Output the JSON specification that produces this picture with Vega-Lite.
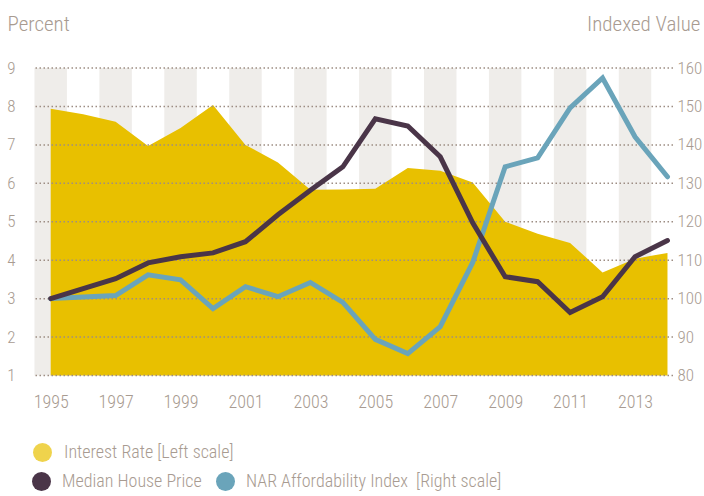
{
  "$schema": "https://vega.github.io/schema/vega-lite/v6.json",
  "width": 640,
  "height": 307.5,
  "autosize": {"type": "none"},
  "padding": {"left": 33, "top": 68, "right": 31, "bottom": 121},
  "background": "white",
  "config": {
    "view": {"stroke": null},
    "font": "Roboto Condensed, Liberation Sans Narrow, DejaVu Sans Condensed, sans-serif",
    "axis": {
      "labelFont": "Roboto Condensed, Liberation Sans Narrow, DejaVu Sans Condensed, sans-serif",
      "labelFontWeight": 300,
      "labelColor": "#A89B91",
      "titleFont": "Roboto Condensed, Liberation Sans Narrow, DejaVu Sans Condensed, sans-serif",
      "titleColor": "#A89B91",
      "titleFontWeight": 300,
      "domain": false,
      "ticks": false,
      "labelOverlap": false
    },
    "legend": {
      "labelFont": "Roboto Condensed, Liberation Sans Narrow, DejaVu Sans Condensed, sans-serif",
      "labelFontWeight": 300,
      "labelFontSize": 18,
      "labelColor": "#A89B91",
      "labelLimit": 400,
      "symbolType": "circle",
      "symbolSize": 361,
      "labelOffset": 11,
      "columnPadding": 14
    }
  },
  "datasets": {
    "bands": [
      {"start": 1994.5, "end": 1995.5},
      {"start": 1996.5, "end": 1997.5},
      {"start": 1998.5, "end": 1999.5},
      {"start": 2000.5, "end": 2001.5},
      {"start": 2002.5, "end": 2003.5},
      {"start": 2004.5, "end": 2005.5},
      {"start": 2006.5, "end": 2007.5},
      {"start": 2008.5, "end": 2009.5},
      {"start": 2010.5, "end": 2011.5},
      {"start": 2012.5, "end": 2013.5}
    ],
    "grid": [
      {"v": 1}, {"v": 2}, {"v": 3}, {"v": 4}, {"v": 5}, {"v": 6}, {"v": 7}, {"v": 8}, {"v": 9}
    ],
    "rates": [
      {"year": 1995, "rate": 7.94},
      {"year": 1996, "rate": 7.80},
      {"year": 1997, "rate": 7.60},
      {"year": 1998, "rate": 6.97},
      {"year": 1999, "rate": 7.44},
      {"year": 2000, "rate": 8.04},
      {"year": 2001, "rate": 7.00},
      {"year": 2002, "rate": 6.54},
      {"year": 2003, "rate": 5.83},
      {"year": 2004, "rate": 5.84},
      {"year": 2005, "rate": 5.86},
      {"year": 2006, "rate": 6.40},
      {"year": 2007, "rate": 6.33},
      {"year": 2008, "rate": 6.02},
      {"year": 2009, "rate": 5.00},
      {"year": 2010, "rate": 4.69},
      {"year": 2011, "rate": 4.45},
      {"year": 2012, "rate": 3.68},
      {"year": 2013, "rate": 4.04},
      {"year": 2014, "rate": 4.19}
    ],
    "series": [
      {"year": 1995, "series": "NAR Affordability Index\u00a0 [Right scale]", "value": 100},
      {"year": 1996, "series": "NAR Affordability Index\u00a0 [Right scale]", "value": 100.4},
      {"year": 1997, "series": "NAR Affordability Index\u00a0 [Right scale]", "value": 100.8},
      {"year": 1998, "series": "NAR Affordability Index\u00a0 [Right scale]", "value": 106.2},
      {"year": 1999, "series": "NAR Affordability Index\u00a0 [Right scale]", "value": 104.9},
      {"year": 2000, "series": "NAR Affordability Index\u00a0 [Right scale]", "value": 97.4},
      {"year": 2001, "series": "NAR Affordability Index\u00a0 [Right scale]", "value": 103.1},
      {"year": 2002, "series": "NAR Affordability Index\u00a0 [Right scale]", "value": 100.5},
      {"year": 2003, "series": "NAR Affordability Index\u00a0 [Right scale]", "value": 104.2},
      {"year": 2004, "series": "NAR Affordability Index\u00a0 [Right scale]", "value": 99.0},
      {"year": 2005, "series": "NAR Affordability Index\u00a0 [Right scale]", "value": 89.4},
      {"year": 2006, "series": "NAR Affordability Index\u00a0 [Right scale]", "value": 85.7},
      {"year": 2007, "series": "NAR Affordability Index\u00a0 [Right scale]", "value": 92.7},
      {"year": 2008, "series": "NAR Affordability Index\u00a0 [Right scale]", "value": 109.4},
      {"year": 2009, "series": "NAR Affordability Index\u00a0 [Right scale]", "value": 134.3},
      {"year": 2010, "series": "NAR Affordability Index\u00a0 [Right scale]", "value": 136.6},
      {"year": 2011, "series": "NAR Affordability Index\u00a0 [Right scale]", "value": 149.6},
      {"year": 2012, "series": "NAR Affordability Index\u00a0 [Right scale]", "value": 157.4},
      {"year": 2013, "series": "NAR Affordability Index\u00a0 [Right scale]", "value": 142.1},
      {"year": 2014, "series": "NAR Affordability Index\u00a0 [Right scale]", "value": 131.7},
      {"year": 1995, "series": "Median House Price", "value": 100},
      {"year": 1996, "series": "Median House Price", "value": 102.6},
      {"year": 1997, "series": "Median House Price", "value": 105.2},
      {"year": 1998, "series": "Median House Price", "value": 109.3},
      {"year": 1999, "series": "Median House Price", "value": 110.9},
      {"year": 2000, "series": "Median House Price", "value": 111.9},
      {"year": 2001, "series": "Median House Price", "value": 114.8},
      {"year": 2002, "series": "Median House Price", "value": 121.8},
      {"year": 2003, "series": "Median House Price", "value": 128.2},
      {"year": 2004, "series": "Median House Price", "value": 134.3},
      {"year": 2005, "series": "Median House Price", "value": 146.8},
      {"year": 2006, "series": "Median House Price", "value": 144.9},
      {"year": 2007, "series": "Median House Price", "value": 136.9},
      {"year": 2008, "series": "Median House Price", "value": 119.7},
      {"year": 2009, "series": "Median House Price", "value": 105.7},
      {"year": 2010, "series": "Median House Price", "value": 104.4},
      {"year": 2011, "series": "Median House Price", "value": 96.4},
      {"year": 2012, "series": "Median House Price", "value": 100.5},
      {"year": 2013, "series": "Median House Price", "value": 110.9},
      {"year": 2014, "series": "Median House Price", "value": 115.1}
    ]
  },
  "layer": [
    {
      "layer": [
        {
          "data": {"name": "bands"},
          "mark": {"type": "rect", "color": "#EFEDEA"},
          "encoding": {
            "x": {
              "field": "start", "type": "quantitative",
              "scale": {"domain": [1994.455, 2014.17], "nice": false, "zero": false},
              "axis": {"values": [1995, 1997, 1999, 2001, 2003, 2005, 2007, 2009, 2011, 2013], "format": "d", "grid": false, "labelFontSize": 18, "labelPadding": 18, "labelOverlap": false, "title": null}
            },
            "x2": {"field": "end"},
            "y": {
              "datum": 9, "type": "quantitative",
              "axis": {
                "orient": "left", "values": [1, 2, 3, 4, 5, 6, 7, 8, 9],
                "grid": false, "labelFontSize": 17, "labelPadding": 18, "labelOverlap": false,
                "title": "Percent", "titleAngle": 0, "titleFontSize": 21,
                "titleAlign": "left", "titleBaseline": "alphabetic", "titleX": -26, "titleY": -38
              }
            },
            "y2": {"datum": 1}
          }
        },
        {
          "data": {"name": "rates"},
          "mark": {"type": "area", "opacity": 1},
          "encoding": {
            "x": {
              "field": "year", "type": "quantitative",
              "axis": {"values": [1995, 1997, 1999, 2001, 2003, 2005, 2007, 2009, 2011, 2013], "format": "d", "grid": false, "labelFontSize": 18, "labelPadding": 18, "labelOverlap": false, "title": null}
            },
            "y": {
              "field": "rate", "type": "quantitative",
              "scale": {"domain": [1, 9], "nice": false, "zero": false},
              "axis": {
                "orient": "left", "values": [1, 2, 3, 4, 5, 6, 7, 8, 9],
                "grid": false, "labelFontSize": 17, "labelPadding": 18, "labelOverlap": false,
                "title": "Percent", "titleAngle": 0, "titleFontSize": 21,
                "titleAlign": "left", "titleBaseline": "alphabetic", "titleX": -26, "titleY": -38
              }
            },
            "y2": {"datum": 1},
            "fill": {
              "datum": "Interest Rate [Left scale]", "type": "nominal",
              "scale": {"range": ["#E8C000"]},
              "legend": {"orient": "none", "legendX": -1, "legendY": 374, "title": null, "symbolOpacity": 0.7}
            }
          }
        },
        {
          "data": {"name": "grid"},
          "mark": {"type": "rule", "color": "#9D8D83", "strokeWidth": 1.5, "strokeDash": [1.5, 2.5]},
          "encoding": {
            "y": {
              "field": "v", "type": "quantitative",
              "axis": {
                "orient": "left", "values": [1, 2, 3, 4, 5, 6, 7, 8, 9],
                "grid": false, "labelFontSize": 17, "labelPadding": 18, "labelOverlap": false,
                "title": "Percent", "titleAngle": 0, "titleFontSize": 21,
                "titleAlign": "left", "titleBaseline": "alphabetic", "titleX": -26, "titleY": -38
              }
            }
          }
        }
      ]
    },
    {
      "data": {"name": "series"},
      "layer": [
        {
          "transform": [{"filter": {"field": "series", "equal": "NAR Affordability Index\u00a0 [Right scale]"}}],
          "mark": {"type": "line", "strokeWidth": 5, "strokeCap": "round"},
          "encoding": {}
        },
        {
          "transform": [{"filter": {"field": "series", "equal": "Median House Price"}}],
          "mark": {"type": "line", "strokeWidth": 5, "strokeCap": "round"},
          "encoding": {}
        }
      ],
      "encoding": {
        "x": {
          "field": "year", "type": "quantitative",
          "axis": {"values": [1995, 1997, 1999, 2001, 2003, 2005, 2007, 2009, 2011, 2013], "format": "d", "grid": false, "labelFontSize": 18, "labelPadding": 18, "labelOverlap": false, "title": null}
        },
        "y": {
          "field": "value", "type": "quantitative",
          "scale": {"domain": [80, 160], "nice": false, "zero": false},
          "axis": {
            "orient": "right", "values": [80, 90, 100, 110, 120, 130, 140, 150, 160],
            "grid": false, "labelFontSize": 17, "labelPadding": 4, "labelOverlap": false,
            "title": "Indexed Value", "titleAngle": 0, "titleFontSize": 21,
            "titleAlign": "right", "titleBaseline": "alphabetic", "titleX": 27, "titleY": -38
          }
        },
        "stroke": {
          "field": "series", "type": "nominal",
          "scale": {"domain": ["Median House Price", "NAR Affordability Index\u00a0 [Right scale]"], "range": ["#4A3548", "#6AA4BA"]},
          "legend": {
            "orient": "none", "direction": "horizontal", "legendX": -1, "legendY": 404, "title": null,
            "symbolStrokeWidth": 0,
            "encode": {"symbols": {"update": {"fill": {"scale": "stroke", "field": "value"}}}}
          }
        }
      }
    }
  ],
  "resolve": {"scale": {"y": "independent"}}
}
